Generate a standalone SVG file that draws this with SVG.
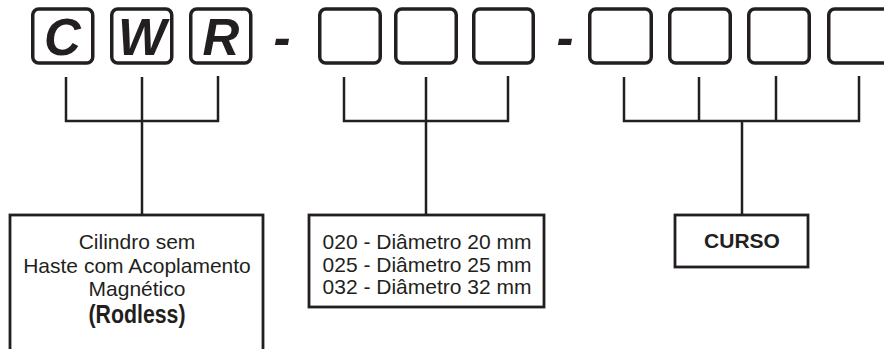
<svg xmlns="http://www.w3.org/2000/svg" width="884" height="349" viewBox="0 0 884 349">
  <style>
    .code { fill: #ffffff; stroke: #231f20; stroke-width: 3.5; }
    .box { fill: #ffffff; stroke: #231f20; stroke-width: 2.8; }
    .conn { fill: none; stroke: #231f20; stroke-width: 2.5; stroke-linecap: butt; }
    .big { font-family: "Liberation Sans", Arial, sans-serif; font-weight: bold; font-style: italic; font-size: 51px; fill: #231f20; text-anchor: middle; }
    .lbl { font-family: "Liberation Sans", Arial, sans-serif; font-size: 21px; fill: #231f20; text-anchor: middle; }
    .bold { font-weight: bold; }
    .rod { font-size: 25px; }
  </style>
  <rect width="884" height="349" fill="#ffffff"/>
  <g id="code-C"><rect class="code" x="32.75" y="9" width="60" height="54" rx="6"/><text class="big" x="62.5" y="55">C</text></g>
  <g id="code-W"><rect class="code" x="111.75" y="9" width="60" height="54" rx="6"/><text class="big" x="142" y="55">W</text></g>
  <g id="code-R"><rect class="code" x="190.75" y="9" width="60" height="54" rx="6"/><text class="big" x="221" y="55">R</text></g>
  <g id="dash-1"><text class="big" x="282" y="55">-</text></g>
  <g id="code-D1"><rect class="code" x="319.75" y="9" width="60.5" height="54" rx="6"/></g>
  <g id="code-D2"><rect class="code" x="395.75" y="9" width="60.5" height="54" rx="6"/></g>
  <g id="code-D3"><rect class="code" x="473.75" y="9" width="59.5" height="54" rx="6"/></g>
  <g id="dash-2"><text class="big" x="565" y="55">-</text></g>
  <g id="code-S1"><rect class="code" x="589.75" y="9" width="61.5" height="54" rx="6"/></g>
  <g id="code-S2"><rect class="code" x="669.75" y="9" width="60.5" height="54" rx="6"/></g>
  <g id="code-S3"><rect class="code" x="748.75" y="9" width="60.5" height="54" rx="6"/></g>
  <g id="code-S4"><rect class="code" x="828.75" y="9" width="60.5" height="54" rx="6"/></g>

  <g id="connectors">
    <path class="conn" d="M66 77 V121 H218 V76 M142 77 V215"/>
    <path class="conn" d="M344 77 V121 H508 V76 M426 77 V215"/>
    <path class="conn" d="M624 77 V121 H859 V76 M699 77 V121 M776 76 V121 M742 121 V215"/>
  </g>

  <g id="node-tipo">
    <rect class="box" x="10" y="215" width="253" height="150"/>
    <text class="lbl" x="137" y="249">Cilindro sem</text>
    <text class="lbl" x="137" y="273">Haste com Acoplamento</text>
    <text class="lbl" x="137" y="296">Magnético</text>
    <text class="lbl bold rod" x="137" y="323" textLength="97" lengthAdjust="spacingAndGlyphs">(Rodless)</text>
  </g>
  <g id="node-diametro">
    <rect class="box" x="309" y="215" width="235" height="92"/>
    <text class="lbl" x="427" y="249">020 - Diâmetro 20 mm</text>
    <text class="lbl" x="427" y="272">025 - Diâmetro 25 mm</text>
    <text class="lbl" x="427" y="294">032 - Diâmetro 32 mm</text>
  </g>
  <g id="node-curso">
    <rect class="box" x="675" y="215" width="133" height="52"/>
    <text class="lbl bold" x="742" y="248">CURSO</text>
  </g>
</svg>
